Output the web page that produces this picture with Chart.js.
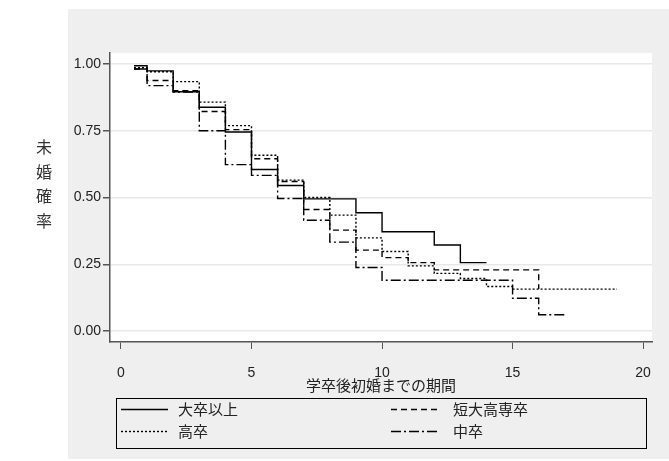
<!DOCTYPE html>
<html>
<head>
<meta charset="utf-8">
<script src="https://cdn.jsdelivr.net/npm/chart.js@4.4.1/dist/chart.umd.min.js"></script>
<style>
  body { margin: 0; background: #fff; }
  canvas { display: block; }
</style>
</head>
<body>
<canvas id="mycanvas" width="669" height="461"></canvas>
<script>
// survival curves
var seriesNames = ['大卒以上', '短大高専卒', '高卒', '中卒'];

var timesDai = [0.5, 1, 2, 3, 4, 5, 6, 7, 9, 10, 12, 13, 14];
var survDai  = [0.993, 0.974, 0.896, 0.838, 0.745, 0.605, 0.545, 0.495, 0.443, 0.372, 0.322, 0.256, 0.256];

var timesTan = [0.5, 1, 2, 3, 4, 5, 6, 7, 8, 9, 10, 11, 12, 16];
var survTan  = [0.981, 0.938, 0.900, 0.822, 0.754, 0.645, 0.560, 0.455, 0.378, 0.303, 0.275, 0.256, 0.229, 0.157];

var timesKou = [0.5, 1, 2, 3, 4, 5, 6, 7, 8, 9, 10, 11, 12, 13, 14, 15, 19];
var survKou  = [0.986, 0.971, 0.934, 0.857, 0.769, 0.658, 0.565, 0.500, 0.434, 0.349, 0.298, 0.244, 0.216, 0.197, 0.167, 0.157, 0.157];

var timesChu = [0.5, 1, 2, 3, 4, 5, 6, 7, 8, 9, 10, 15, 16, 17];
var survChu  = [0.981, 0.919, 0.895, 0.750, 0.623, 0.583, 0.496, 0.415, 0.333, 0.238, 0.190, 0.123, 0.061, 0.061];

var xTicks = [0, 5, 10, 15, 20];
var yTicks = [0, 0.25, 0.5, 0.75, 1];
var yTickLabels = ['0.00', '0.25', '0.50', '0.75', '1.00'];

var xTitle = '学卒後初婚までの期間';
var yTitle = ['未', '婚', '確', '率'];

var jp = '"Noto Sans CJK JP", sans-serif';
var num = '"Liberation Sans", Arial, sans-serif';

function pts(t, s) {
  var out = [];
  for (var i = 0; i < t.length; i++) out.push({x: t[i], y: s[i]});
  return out;
}

function ds(label, t, s, dash) {
  return {
    label: label,
    data: pts(t, s),
    borderColor: '#000',
    borderWidth: 1.4,
    borderDash: dash,
    stepped: 'before',
    pointRadius: 0,
    fill: false
  };
}

var chartdata = {
  datasets: [
    ds(seriesNames[0], timesDai, survDai, []),
    ds(seriesNames[1], timesTan, survTan, [6, 4]),
    ds(seriesNames[2], timesKou, survKou, [2, 2]),
    ds(seriesNames[3], timesChu, survChu, [10, 3, 2, 3])
  ]
};

var bgPlugin = {
  id: 'bg',
  beforeDraw: function(chart) {
    var c = chart.ctx, a = chart.chartArea;
    c.save();
    c.fillStyle = '#fff';
    c.fillRect(0, 0, chart.width, chart.height);
    c.fillStyle = '#efefef';
    c.fillRect(68, 9, chart.width - 68, 450);
    c.fillStyle = '#fff';
    c.fillRect(a.left, a.top, a.right - a.left, a.bottom - a.top);
    c.restore();
  }
};

var legendBox = {
  id: 'legendBox',
  afterDraw: function(chart) {
    var c = chart.ctx;
    c.save();
    c.strokeStyle = '#000';
    c.lineWidth = 1;
    c.strokeRect(116.5, 398.5, 530, 50);
    chart.data.datasets.forEach(function(d, i) {
      var col = i % 2, row = Math.floor(i / 2);
      var sx = col ? 391 : 121;
      var tx = col ? 453 : 178;
      var y = row ? 431 : 409;
      c.beginPath();
      c.setLineDash(d.borderDash);
      c.lineWidth = d.borderWidth;
      c.moveTo(sx, y + 0.5);
      c.lineTo(sx + 47, y + 0.5);
      c.stroke();
      c.setLineDash([]);
      c.fillStyle = '#222';
      c.font = '15px ' + jp;
      c.textBaseline = 'middle';
      c.fillText(d.label, tx, y);
    });
    // vertical y title
    c.fillStyle = '#333';
    c.font = '16px ' + jp;
    c.textAlign = 'center';
    yTitle.forEach(function(ch, i) {
      c.fillText(ch, 44, 147 + i * 24.5);
    });
    c.restore();
  }
};

var ctx = document.getElementById('mycanvas');
var kmChart = new Chart(ctx, {
  type: 'line',
  data: chartdata,
  options: {
    responsive: false,
    animation: false,
    layout: { padding: { left: 0, top: 53, right: 17, bottom: 0 } },
    plugins: { legend: { display: false }, tooltip: { enabled: false } },
    scales: {
      x: {
        type: 'linear',
        min: -0.42,
        max: 20.34,
        afterBuildTicks: function(s) { s.ticks = xTicks.map(function(v){ return {value: v}; }); },
        afterFit: function(s) { s.height = 119; },
        grid: { drawOnChartArea: false, drawTicks: true, tickLength: 7, tickColor: '#555' },
        border: { color: '#555', width: 1.5 },
        ticks: { color: '#222', font: { family: num, size: 14 }, padding: 16, maxRotation: 0 },
        title: { display: true, text: xTitle, color: '#222', font: { family: jp, size: 15 }, padding: { top: 0, bottom: 67 } }
      },
      y: {
        min: -0.041,
        max: 1.041,
        afterBuildTicks: function(s) { s.ticks = yTicks.map(function(v){ return {value: v}; }); },
        afterFit: function(s) { s.width = 110; },
        grid: { color: '#e8e8e8', lineWidth: 1.5, drawTicks: true, tickLength: 7, tickColor: '#555' },
        border: { color: '#555', width: 1.5 },
        ticks: {
          color: '#222',
          font: { family: num, size: 14 },
          padding: 2,
          callback: function(v) { return yTickLabels[yTicks.indexOf(v)]; }
        }
      }
    }
  },
  plugins: [bgPlugin, legendBox]
});
</script>
</body>
</html>
